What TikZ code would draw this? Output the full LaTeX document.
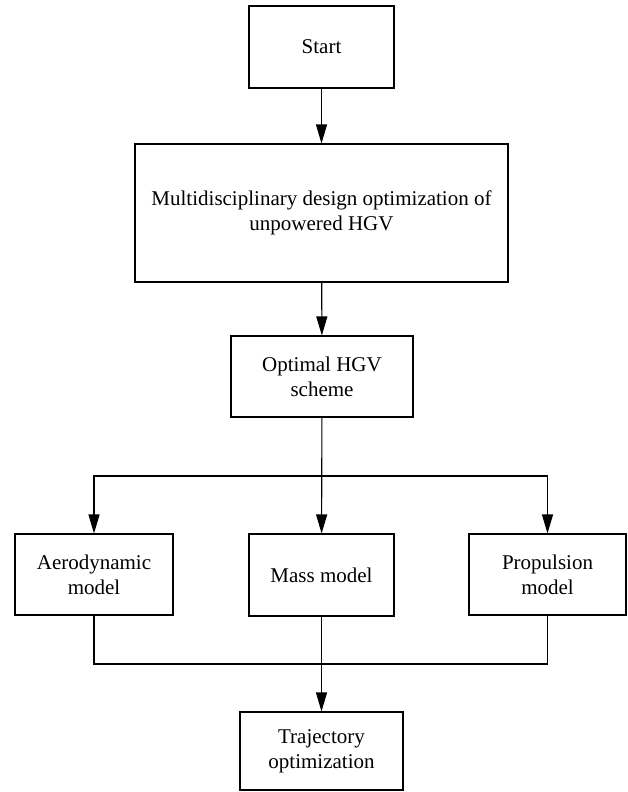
\documentclass[tikz,border=0pt]{standalone}
\usepackage{fontspec}
\setmainfont{Liberation Serif}
\usetikzlibrary{arrows.meta}

\begin{document}
\begin{tikzpicture}[x=1pt, y=1pt, line width=1.1pt,
    every node/.style={font=\fontsize{21}{25}\selectfont},
    box/.style={draw, rectangle, align=center, inner sep=0pt},
    flow/.style={-{Triangle[length=19pt, width=11pt]}}]
    \useasboundingbox (0,0) rectangle (628,-792);

    % Draw the boxes
    \node[box, minimum width=145, minimum height=82] (start) at (321.5,-47) {Start};
    \node[box, minimum width=373, minimum height=138] (mdo) at (321.5,-213)
        {Multidisciplinary design optimization of\\unpowered HGV};
    \node[box, minimum width=182, minimum height=81] (opt) at (322,-376.5)
        {Optimal HGV\\scheme};

    \node[box, minimum width=158, minimum height=81] (aero) at (94,-574.5)
        {Aerodynamic\\model};
    \node[box, minimum width=145, minimum height=82] (mass) at (321.5,-575) {Mass model};
    \node[box, minimum width=157, minimum height=81] (prop) at (547.5,-574.5)
        {Propulsion\\model};

    \node[box, minimum width=163, minimum height=78] (traj) at (321.5,-751)
        {Trajectory\\optimization};

    % Branch and merge points
    \coordinate (split) at (321.5,-476);
    \coordinate (merge) at (321.5,-664);

    % Draw the arrows
    \draw[flow] (start) -- (mdo);
    \draw[flow] (mdo) -- (opt);
    \draw[flow] (opt) -- (mass);
    \draw[flow] (split) -| (aero);
    \draw[flow] (split) -| (prop);

    \draw (aero) |- (merge);
    \draw (prop) |- (merge);
    \draw (mass) -- (merge);
    \draw[flow] (merge) -- (traj);

\end{tikzpicture}
\end{document}
